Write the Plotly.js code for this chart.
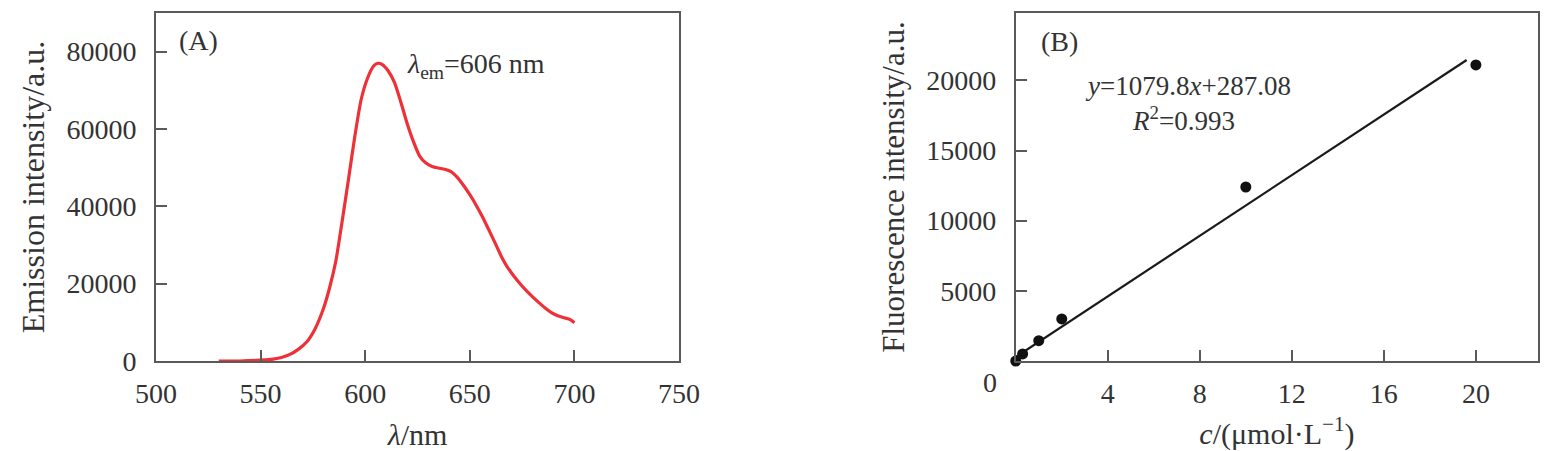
<!DOCTYPE html>
<html>
<head>
<meta charset="utf-8">
<script src="https://cdn.plot.ly/plotly-3.0.1.min.js"></script>
<style>html,body{margin:0;padding:0;background:#fff;}#chart{width:1552px;height:451px;}</style>
</head>
<body>
<div id="chart"></div>
<script>
// Panel A: emission spectrum
const wavelength = [530, 540, 548, 552, 556, 560, 564, 568, 572, 576, 580, 583, 586, 589, 592, 595, 598, 601, 604, 606, 608, 611, 614, 617, 620, 623, 626, 629, 632, 635, 638, 641, 644, 647, 650, 653, 656, 659, 662, 665, 668, 671, 674, 677, 680, 683, 686, 689, 692, 695, 698, 700];
const emission = [0, 0, 150, 300, 500, 900, 1700, 3000, 4900, 8300, 13500, 19000, 26000, 36300, 47000, 58000, 67500, 73000, 76300, 77000, 76700, 75000, 72000, 67000, 61500, 56800, 53000, 51200, 50300, 49900, 49600, 49000, 47500, 45400, 43000, 40300, 37300, 34000, 30600, 27100, 24200, 22000, 20000, 18200, 16600, 15100, 13700, 12500, 11700, 11200, 10700, 9900];

// Panel B: calibration
const concentration = [0, 0.3, 1, 2, 10, 20];
const fluorescence = [0, 500, 1450, 3000, 12400, 21100];
const fitSlope = 1079.8;
const fitIntercept = 287.08;
const fitX = [0, 19.6];
const fitY = fitX.map(x => fitSlope * x + fitIntercept);

const xTicksA = [500, 550, 600, 650, 700, 750];
const yTicksA = [0, 20000, 40000, 60000, 80000];
const xTicksB = [4, 8, 12, 16, 20];
const yTicksB = [5000, 10000, 15000, 20000];

const FONT = 'Liberation Serif, Times New Roman, serif';
const TXT = '#333';
const AX = '#5a5a5a';

const axisCommon = {
  showline: true, mirror: true, linecolor: AX, linewidth: 2,
  ticks: 'inside', ticklen: 11, tickwidth: 2, tickcolor: AX,
  showgrid: false, zeroline: false,
  tickfont: {family: FONT, size: 28, color: TXT},
  automargin: false
};

const traces = [
  {x: wavelength, y: emission, type: 'scatter', mode: 'lines',
   line: {color: '#ee3038', width: 3.2, shape: 'spline', smoothing: 0.6},
   xaxis: 'x', yaxis: 'y'},
  {x: fitX, y: fitY, type: 'scatter', mode: 'lines',
   line: {color: '#1a1a1a', width: 2.2}, xaxis: 'x2', yaxis: 'y2', cliponaxis: false},
  {x: concentration, y: fluorescence, type: 'scatter', mode: 'markers',
   marker: {color: '#111', size: 11}, xaxis: 'x2', yaxis: 'y2', cliponaxis: false}
];

const layout = {
  width: 1552, height: 451,
  margin: {l: 156, r: 14, t: 13, b: 90},
  paper_bgcolor: '#fff', plot_bgcolor: '#fff',
  showlegend: false,
  font: {family: FONT, color: TXT},
  xaxis: Object.assign({}, axisCommon, {
    domain: [0, 0.3785], range: [500, 750], tickvals: xTicksA,
    ticktext: xTicksA.map(String), anchor: 'y',
    ticklabelstandoff: 6,
    title: {text: '<i>λ</i>/nm', font: {family: FONT, size: 30, color: TXT}, standoff: 20}
  }),
  yaxis: Object.assign({}, axisCommon, {
    domain: [0, 1], range: [0, 90000], tickvals: yTicksA,
    ticktext: yTicksA.map(String), anchor: 'x',
    ticklabelstandoff: 12,
    title: {text: 'Emission intensity/a.u.', font: {family: FONT, size: 32, color: TXT}, standoff: 12}
  }),
  xaxis2: Object.assign({}, axisCommon, {
    domain: [0.6221, 1], range: [0, 22.7], tickvals: xTicksB,
    ticktext: xTicksB.map(String), anchor: 'y2',
    ticklabelstandoff: 6,
    title: {text: '<i>c</i>/(μmol·L<sup>−1</sup>)', font: {family: FONT, size: 30, color: TXT}, standoff: 20}
  }),
  yaxis2: Object.assign({}, axisCommon, {
    domain: [0, 1], range: [0, 24800], tickvals: yTicksB,
    ticktext: yTicksB.map(String), anchor: 'x2',
    ticklabelstandoff: 12,
    title: {text: 'Fluorescence intensity/a.u.', font: {family: FONT, size: 31, color: TXT}, standoff: 12}
  }),
  annotations: [
    {xref: 'x', yref: 'y', x: 510, y: 83000, xanchor: 'left', yanchor: 'middle', showarrow: false,
     text: '(A)', font: {family: FONT, size: 28, color: TXT}},
    {xref: 'x', yref: 'y', x: 619, y: 76500, xanchor: 'left', yanchor: 'middle', showarrow: false,
     text: '<i>λ</i><sub>em</sub>=606 nm', font: {family: FONT, size: 28, color: TXT}},
    {xref: 'x2', yref: 'y2', x: 1.0, y: 22800, xanchor: 'left', yanchor: 'middle', showarrow: false,
     text: '(B)', font: {family: FONT, size: 28, color: TXT}},
    {xref: 'x2', yref: 'y2', x: 7.5, y: 19600, xanchor: 'center', yanchor: 'middle', showarrow: false,
     text: '<i>y</i>=1079.8<i>x</i>+287.08', font: {family: FONT, size: 27, color: TXT}},
    {xref: 'x2', yref: 'y2', x: 7.3, y: 17250, xanchor: 'center', yanchor: 'middle', showarrow: false,
     text: '<i>R</i><sup>2</sup>=0.993', font: {family: FONT, size: 27, color: TXT}},
    {xref: 'paper', yref: 'paper', x: 0.6035, y: -0.063, xanchor: 'center', yanchor: 'middle', showarrow: false,
     text: '0', font: {family: FONT, size: 28, color: TXT}}
  ]
};

Plotly.newPlot('chart', traces, layout, {displayModeBar: false, staticPlot: true});
</script>
</body>
</html>
